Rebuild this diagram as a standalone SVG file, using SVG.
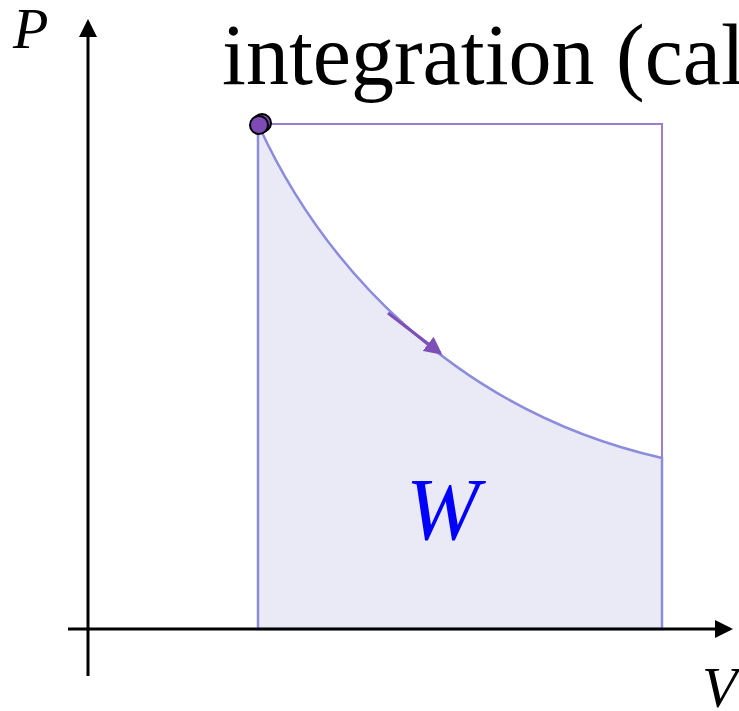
<svg xmlns="http://www.w3.org/2000/svg" width="739" height="711" viewBox="0 0 739 711">
<style>
.axis{stroke:#000;stroke-width:3;fill:none}
.ser{font-family:"Liberation Serif","Times New Roman","DejaVu Serif",serif}
.lbl{font-style:italic}
</style>
<defs>
<marker id="ah" markerWidth="6" markerHeight="6" refX="5" refY="3" orient="auto" markerUnits="strokeWidth"><path d="M0,0 L6,3 L0,6 z" fill="#000"/></marker>
<marker id="ph" markerWidth="6" markerHeight="6" refX="5" refY="3" orient="auto" markerUnits="strokeWidth"><path d="M0,0 L6,3 L0,6 z" fill="#7e4fb6"/></marker>
</defs>
<rect width="739" height="711" fill="#fff"/>
<g id="area">
<path d="M258,124 C320,260 450,410 662,458 L662,629 L258,629 Z" fill="#EAEAF6" stroke="#8C8CDC" stroke-width="2.5"/>
</g>
<g id="box">
<path d="M258,124 L662,124 L662,458" fill="none" stroke="#9A80CC" stroke-width="2"/>
</g>
<g id="connectors">
<line class="axis" x1="88" y1="676" x2="88" y2="22" marker-end="url(#ah)"/>
<line class="axis" x1="68" y1="629" x2="730" y2="629" marker-end="url(#ah)"/>
<line x1="388" y1="313" x2="440" y2="353" stroke="#7e4fb6" stroke-width="3" marker-end="url(#ph)"/>
</g>
<g id="point">
<circle cx="262" cy="123" r="9" fill="#7d4bb5" stroke="#000" stroke-width="2"/>
<circle cx="259" cy="125" r="9" fill="#7d4bb5" stroke="#000" stroke-width="2"/>
</g>
<g id="labels">
<text class="ser lbl" x="13" y="48" font-size="58">P</text>
<text class="ser lbl" x="702" y="707" font-size="58">V</text>
<text class="ser lbl" x="406" y="539" font-size="88" fill="#0000FF">W</text>
<text class="ser" x="222" y="84" font-size="86">integration (cal</text>
</g>
</svg>
